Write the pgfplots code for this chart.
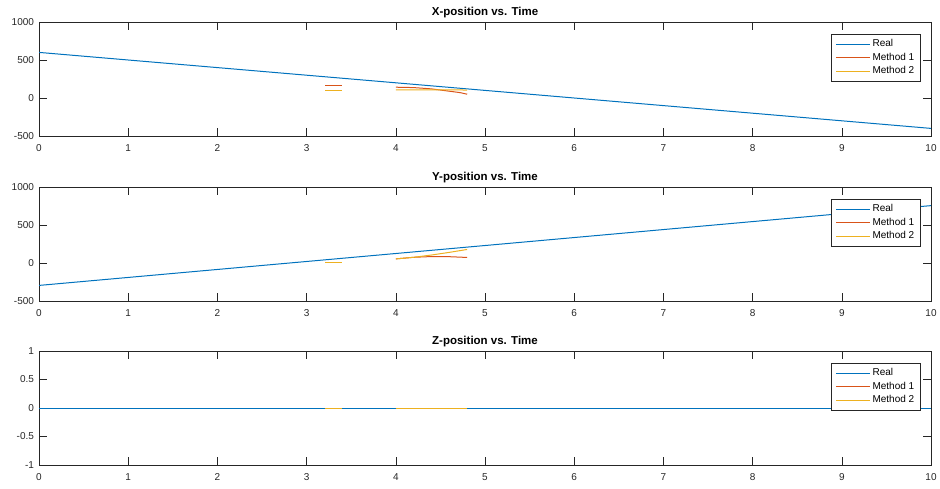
\documentclass[border=0pt]{standalone}
\usepackage{fontspec}
\setmainfont{Liberation Sans}
\usepackage{pgfplots}
\pgfplotsset{compat=1.18}
\definecolor{mblue}{rgb}{0,0.447,0.741}
\definecolor{morange}{rgb}{0.85,0.325,0.098}
\definecolor{myellow}{rgb}{0.929,0.694,0.125}
\definecolor{axgray}{rgb}{0.15,0.15,0.15}
\pgfplotsset{mat/.style={
  scale only axis, width=892pt, height=114pt,
  xmin=0, xmax=10, xtick={0,1,...,10},
  axis line style={axgray, line width=0.5pt},
  tick style={axgray, line width=0.5pt},
  tick align=inside, major tick length=8pt,
  ticklabel style={font=\fontsize{10}{12}\selectfont, text=axgray},
  xticklabel style={yshift=-5pt},
  yticklabel style={xshift=-1.5pt},
  /pgf/number format/assume math mode=true,
  /pgf/number format/1000 sep={},
  title style={font=\bfseries\fontsize{11.5}{13}\selectfont, at={(0.5,1)}, anchor=south, inner sep=0pt, yshift=-2pt, text=black},
  legend style={at={(1,1)}, anchor=north east, xshift=-11pt, yshift=-12pt, draw=axgray, line width=0.5pt,
     font=\fontsize{10}{12}\selectfont, inner xsep=4.5pt, inner ysep=4pt,
     nodes={inner sep=1pt, text height=7.5pt, text depth=2.5pt},
     row sep=1.6pt, column sep=1pt},
  legend cell align=left,
  legend image code/.code={\draw[line width=1.1pt, #1] (0pt,0pt) -- (34pt,0pt);},
  every axis plot/.append style={line width=1pt},
}}
\begin{document}
\begin{tikzpicture}
\useasboundingbox (0,0) rectangle (940pt,488pt);
% X position
\begin{axis}[mat, at={(39pt,352pt)}, anchor=south west,
  ymin=-500, ymax=1000, ytick={-500,0,500,1000},
  title={X-position vs. Time}]
\addplot[draw=mblue] coordinates {(0,600) (10,-400)};
\addlegendentry{Real}
\addplot[draw=morange] coordinates {(3.21,164) (3.40,164)};
\addlegendentry{Method 1}
\addplot[draw=myellow] coordinates {(3.21,98) (3.40,98)};
\addlegendentry{Method 2}
\addplot[draw=morange, forget plot] coordinates {(4.0,142) (4.2,137) (4.4,120) (4.57,94) (4.72,71) (4.8,50)};
\addplot[draw=myellow, forget plot] coordinates {(4.0,108) (4.4,107) (4.8,105)};
\end{axis}
% Y position
\begin{axis}[mat, at={(39pt,187pt)}, anchor=south west,
  ymin=-500, ymax=1000, ytick={-500,0,500,1000},
  title={Y-position vs. Time}]
\addplot[draw=mblue] coordinates {(0,-295) (10,755)};
\addlegendentry{Real}
\addplot[draw=morange] coordinates {(3.21,10) (3.40,10)};
\addlegendentry{Method 1}
\addplot[draw=myellow] coordinates {(3.21,10) (3.40,10)};
\addlegendentry{Method 2}
\addplot[draw=morange, forget plot] coordinates {(4.0,54) (4.2,75) (4.4,85) (4.6,83) (4.8,73)};
\addplot[draw=myellow, forget plot] coordinates {(4.0,54) (4.2,75) (4.4,105) (4.6,140) (4.8,178)};
\end{axis}
% Z position
\begin{axis}[mat, at={(39pt,23pt)}, anchor=south west,
  ymin=-1, ymax=1, ytick={-1,-0.5,0,0.5,1},
  title={Z-position vs. Time}]
\addplot[draw=mblue] coordinates {(0,0) (10,0)};
\addlegendentry{Real}
\addplot[draw=morange] coordinates {(3.21,0) (3.40,0)};
\addlegendentry{Method 1}
\addplot[draw=myellow] coordinates {(3.21,0) (3.40,0)};
\addlegendentry{Method 2}
\addplot[draw=morange, forget plot] coordinates {(4.0,0) (4.8,0)};
\addplot[draw=myellow, forget plot] coordinates {(4.0,0) (4.8,0)};
\end{axis}
\end{tikzpicture}
\end{document}
